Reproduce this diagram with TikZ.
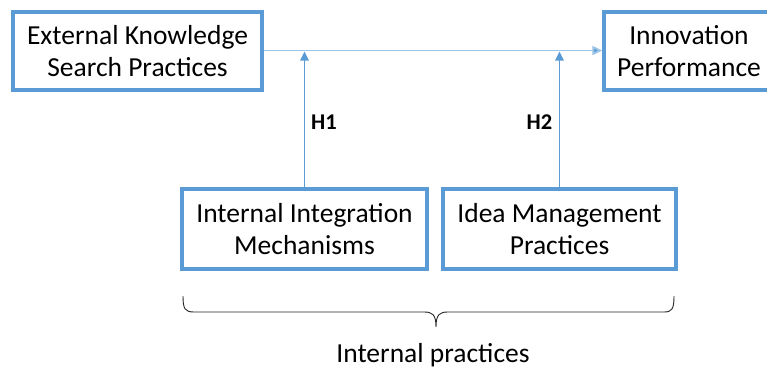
\documentclass[tikz,border=0pt]{standalone}
\usepackage{fontspec}
\setmainfont{Carlito}
\usetikzlibrary{arrows.meta}
\definecolor{boxblue}{HTML}{5B9BD5}
\definecolor{lineblue}{HTML}{9DC3E6}
\begin{document}
\begin{tikzpicture}[x=1pt,y=-1pt,
  box/.style={draw=boxblue,line width=3.3pt,fill=white,align=center,
    inner sep=0pt,font=\fontsize{27.5}{32}\selectfont},
  link/.style={draw=boxblue,line width=1.2pt,
    -{Triangle[length=9pt,width=8.5pt]}},
  mainlink/.style={draw=lineblue,line width=1.8pt,
    -{Triangle[length=10pt,width=9pt,fill=boxblue]}},
  hyp/.style={font=\fontsize{22.5}{26}\selectfont\bfseries,inner sep=0pt}]
\useasboundingbox (0,0) rectangle (767,369);
\begin{scope}
\clip (0,0) rectangle (767,369);
% constructs
\node[box,minimum width=249pt,minimum height=78pt] (ext) at (137.5,51)
  {External Knowledge\\Search Practices};
\node[box,minimum width=170pt,minimum height=78pt] (inn) at (689,51)
  {Innovation\\Performance};
\node[box,minimum width=245pt,minimum height=80pt] (iim) at (304.5,229)
  {Internal Integration\\Mechanisms};
\node[box,minimum width=233pt,minimum height=80pt] (imp) at (559.5,229)
  {Idea Management\\Practices};
% main effect
\draw[mainlink] (ext.east |- 0,50.5) -- (inn.west |- 0,50.5);
% moderating effects
\coordinate (m1) at (iim.north |- 0,51.5);
\coordinate (m2) at (imp.north |- 0,51.5);
\draw[link] (iim.north) -- (m1);
\draw[link] (imp.north) -- (m2);
\node[hyp] (h1) at (324,122.5) {H1};
\node[hyp] (h2) at (539.5,122.5) {H2};
% grouping brace
\draw[black!85,line width=0.9pt]
  (183,296) .. controls (183,309) and (185,312) .. (194,312) -- (424,312)
  .. controls (432,312) and (436,314) .. (436,327)
  .. controls (436,314) and (440,312) .. (448,312) -- (664,312)
  .. controls (672,312) and (674,309) .. (674,296);
\node[font=\fontsize{27.5}{32}\selectfont,inner sep=0pt] (grp) at (433,355)
  {Internal practices};
\end{scope}
\end{tikzpicture}
\end{document}
